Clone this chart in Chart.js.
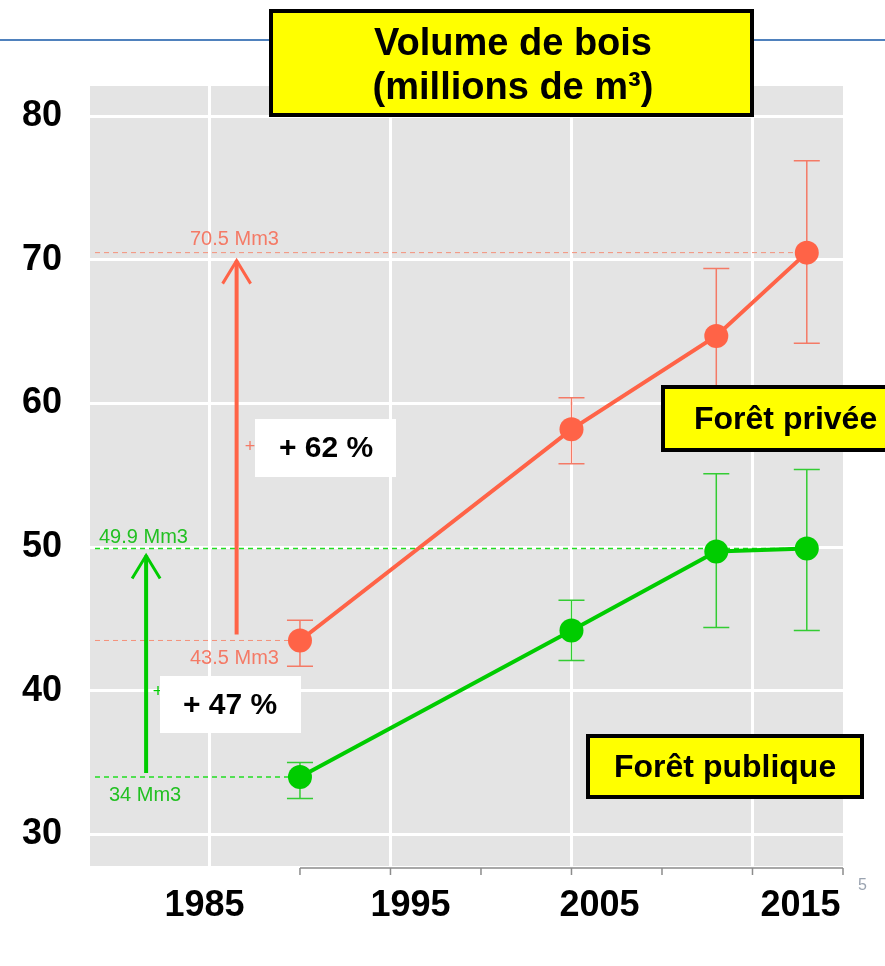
<!DOCTYPE html>
<html>
<head>
<meta charset="utf-8">
<script src="https://cdn.jsdelivr.net/npm/chart.js@4.4.1/dist/chart.umd.min.js"></script>
<style>
  html, body { margin: 0; padding: 0; background: #fff; }
  #wrap { width: 885px; height: 966px; }
</style>
</head>
<body>
<div id="wrap"><canvas id="chart" width="885" height="966"></canvas></div>
<script>
const years = [1990, 2005, 2013, 2018];
const priveeValues = [43.5, 58.2, 64.7, 70.5];
const priveeLow = [41.7, 55.8, 60.0, 64.2];
const priveeHigh = [44.9, 60.4, 69.4, 76.9];
const publiqueValues = [34, 44.2, 49.7, 49.9];
const publiqueLow = [32.5, 42.1, 44.4, 44.2];
const publiqueHigh = [35.0, 46.3, 55.1, 55.4];

const yTicks = [30, 40, 50, 60, 70, 80];
const xGridYears = [1985, 1995, 2005, 2015];
const xAxisTicks = [1990, 1995, 2000, 2005, 2010, 2015, 2020];
const xTickLabels = ["1985", "1995", "2005", "2015"];

const title = ["Volume de bois", "(millions de m³)"];
const seriesNames = ["Forêt privée", "Forêt publique"];

const RED = "#ff6347";
const GREEN = "#00cc00";
const FAMILY = "'Liberation Sans', Arial, sans-serif";

function box(ctx, x, y, w, h, fill, border) {
  ctx.save();
  ctx.fillStyle = fill;
  ctx.fillRect(x, y, w, h);
  if (border) {
    ctx.strokeStyle = "#000";
    ctx.lineWidth = 4;
    ctx.strokeRect(x, y, w, h);
  }
  ctx.restore();
}

function arrow(ctx, x, y1, y2, color) {
  ctx.save();
  ctx.strokeStyle = color;
  ctx.lineWidth = 4;
  ctx.beginPath();
  ctx.moveTo(x, y1);
  ctx.lineTo(x, y2);
  ctx.stroke();
  ctx.lineWidth = 3;
  ctx.beginPath();
  ctx.moveTo(x - 14, y2 + 23);
  ctx.lineTo(x, y2);
  ctx.lineTo(x + 14, y2 + 23);
  ctx.stroke();
  ctx.restore();
}

const decor = {
  id: "decor",
  beforeDraw(chart) {
    const { ctx, chartArea: a } = chart;
    ctx.save();
    // slide rule line
    ctx.strokeStyle = "#4f81bd";
    ctx.lineWidth = 2;
    ctx.beginPath();
    ctx.moveTo(0, 40);
    ctx.lineTo(885, 40);
    ctx.stroke();
    // panel background
    ctx.fillStyle = "#e4e4e4";
    ctx.fillRect(a.left, a.top, a.right - a.left, a.bottom - a.top);
    ctx.restore();
  },
  beforeDatasetsDraw(chart) {
    const { ctx, chartArea: a, scales: { x, y } } = chart;
    ctx.save();

    // reference dashed lines
    const refs = [
      [priveeValues[3], years[3], "#f4907a", 1],
      [priveeValues[0], years[0], "#f4907a", 1],
      [publiqueValues[3], years[3], "#22dd22", 1.5],
      [publiqueValues[0], years[0], "#22dd22", 1.5]
    ];
    refs.forEach(([v, yr, c, w]) => {
      ctx.strokeStyle = c;
      ctx.lineWidth = w;
      ctx.setLineDash([5, 4]);
      ctx.beginPath();
      ctx.moveTo(a.left + 5, y.getPixelForValue(v));
      ctx.lineTo(x.getPixelForValue(yr), y.getPixelForValue(v));
      ctx.stroke();
    });
    ctx.setLineDash([]);

    // error bars
    const bars = [
      [priveeLow, priveeHigh, "#f47a66"],
      [publiqueLow, publiqueHigh, "#33cc33"]
    ];
    bars.forEach(([lo, hi, c]) => {
      ctx.strokeStyle = c;
      ctx.lineWidth = 1.5;
      years.forEach((yr, i) => {
        const px = x.getPixelForValue(yr);
        const p1 = y.getPixelForValue(lo[i]);
        const p2 = y.getPixelForValue(hi[i]);
        ctx.beginPath();
        ctx.moveTo(px, p1); ctx.lineTo(px, p2);
        ctx.moveTo(px - 13, p1); ctx.lineTo(px + 13, p1);
        ctx.moveTo(px - 13, p2); ctx.lineTo(px + 13, p2);
        ctx.stroke();
      });
    });

    // value labels
    ctx.font = "20px " + FAMILY;
    ctx.textBaseline = "alphabetic";
    ctx.textAlign = "left";
    ctx.fillStyle = "#f47a66";
    ctx.fillText(priveeValues[3] + " Mm3", 190, y.getPixelForValue(priveeValues[3]) - 8);
    ctx.fillText(priveeValues[0] + " Mm3", 190, y.getPixelForValue(priveeValues[0]) + 24);
    ctx.fillStyle = "#22c022";
    ctx.fillText(publiqueValues[3] + " Mm3", 99, y.getPixelForValue(publiqueValues[3]) - 6);
    ctx.fillText(publiqueValues[0] + " Mm3", 109, y.getPixelForValue(publiqueValues[0]) + 24);

    // arrows
    arrow(ctx, x.getPixelForValue(1986.5), y.getPixelForValue(priveeValues[0]) - 6,
      y.getPixelForValue(priveeValues[3]) + 8, RED);
    arrow(ctx, x.getPixelForValue(1981.5), y.getPixelForValue(publiqueValues[0]) - 4,
      y.getPixelForValue(publiqueValues[3]) + 7, GREEN);

    // small plus marks
    ctx.font = "18px " + FAMILY;
    ctx.textAlign = "center";
    ctx.textBaseline = "middle";
    ctx.fillStyle = "#f47a66";
    ctx.fillText("+", 250, 447);
    ctx.fillStyle = GREEN;
    ctx.fillText("+", 158, 692);
    ctx.restore();
  },
  afterDraw(chart) {
    const { ctx, chartArea: a, scales: { x } } = chart;
    ctx.save();

    // bottom axis line with ticks
    const x0 = x.getPixelForValue(xAxisTicks[0]);
    ctx.strokeStyle = "#8c8c8c";
    ctx.lineWidth = 1.5;
    ctx.beginPath();
    ctx.moveTo(x0, a.bottom + 2);
    ctx.lineTo(a.right, a.bottom + 2);
    xAxisTicks.forEach(t => {
      const px = Math.min(x.getPixelForValue(t), a.right);
      ctx.moveTo(px, a.bottom + 2);
      ctx.lineTo(px, a.bottom + 9);
    });
    ctx.stroke();
    // cut-off original tick label peeking out at the right
    ctx.font = "16px " + FAMILY;
    ctx.fillStyle = "#9aa3b0";
    ctx.textAlign = "left";
    ctx.textBaseline = "middle";
    ctx.fillText("5", 858, 886);

    // x labels (overlaid text on the slide)
    const nudge = [-5, 20, 28, 48];
    ctx.font = "bold 36px " + FAMILY;
    ctx.fillStyle = "#000";
    ctx.textAlign = "center";
    xTickLabels.forEach((lab, i) => {
      ctx.fillText(lab, x.getPixelForValue(xGridYears[i]) + nudge[i], 906);
    });

    // percentage boxes
    const pctPrivee = Math.round((priveeValues[3] / priveeValues[0] - 1) * 100);
    const pctPublique = Math.round((publiqueValues[3] / publiqueValues[0] - 1) * 100);
    box(ctx, 255, 419, 141, 58, "#fff", false);
    box(ctx, 160, 676, 141, 57, "#fff", false);
    ctx.font = "bold 30px " + FAMILY;
    ctx.fillStyle = "#000";
    ctx.fillText("+ " + pctPrivee + " %", 326, 449);
    ctx.fillText("+ " + pctPublique + " %", 230, 706);

    // title box
    box(ctx, 271, 11, 481, 104, "#ffff00", true);
    ctx.font = "bold 38px " + FAMILY;
    ctx.fillStyle = "#000";
    ctx.fillText(title[0], 513, 45);
    ctx.fillText(title[1], 513, 89);

    // series name boxes
    box(ctx, 663, 387, 240, 63, "#ffff00", true);
    box(ctx, 588, 736, 274, 61, "#ffff00", true);
    ctx.font = "bold 32px " + FAMILY;
    ctx.textAlign = "left";
    ctx.fillText(seriesNames[0], 694, 420);
    ctx.fillText(seriesNames[1], 614, 768);
    ctx.restore();
  }
};

const ctx = document.getElementById("chart");

new Chart(ctx, {
  type: "line",
  data: {
    datasets: [
      {
        label: seriesNames[0],
        data: years.map((yr, i) => ({ x: yr, y: priveeValues[i] })),
        borderColor: RED,
        backgroundColor: RED,
        borderWidth: 4,
        pointRadius: 12,
        pointBorderWidth: 0
      },
      {
        label: seriesNames[1],
        data: years.map((yr, i) => ({ x: yr, y: publiqueValues[i] })),
        borderColor: GREEN,
        backgroundColor: GREEN,
        borderWidth: 4,
        pointRadius: 12,
        pointBorderWidth: 0
      }
    ]
  },
  options: {
    responsive: false,
    animation: false,
    events: [],
    layout: { padding: { left: 0, right: 42, top: 86, bottom: 100 } },
    plugins: { legend: { display: false }, tooltip: { enabled: false } },
    scales: {
      x: {
        type: "linear",
        min: 1978.4,
        max: 2020,
        afterBuildTicks: s => { s.ticks = xGridYears.map(v => ({ value: v })); },
        ticks: { display: false },
        grid: { color: "#ffffff", lineWidth: 3, drawTicks: false },
        border: { display: false }
      },
      y: {
        min: 27.8,
        max: 82.1,
        afterBuildTicks: s => { s.ticks = yTicks.map(v => ({ value: v })); },
        afterFit: s => { s.width = 90; },
        ticks: {
          padding: 28,
          color: "#000",
          font: { family: FAMILY, size: 36, weight: "bold" }
        },
        grid: { color: "#ffffff", lineWidth: 3, drawTicks: false },
        border: { display: false }
      }
    }
  },
  plugins: [decor]
});
</script>
</body>
</html>
